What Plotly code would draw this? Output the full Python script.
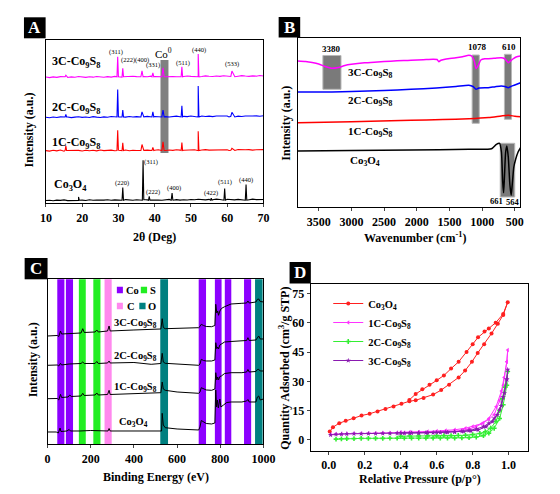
import plotly.graph_objects as go

FONT = "Liberation Serif"
W, H, OFF = 544, 478, 8   # page body margin is 8px; figure placed at (8, 8)

def fx(px):
    return (px - OFF) / W

def fy(py):
    return 1 - (py - OFF) / H

# ---------------- Panel A: XRD ----------------
xrd_grid = list(range(10, 71))
black_noise = [2.5,2.8,2.3,2.9,2.6,3.1,2.4,2.7,3.0,2.6, 2.9,2.5,3.2,2.7,3.0,2.6,2.9,3.3,2.8,3.1,
               2.7,3.0,3.4,2.9,2.8,3.2,3.0,3.5,3.1,2.9, 3.3,3.0,2.8,3.2,3.6,3.1,3.4,2.9,3.3,3.0,
               3.5,3.2,3.8,3.4,3.1,3.6,3.3,3.9,3.5,3.2, 3.7,3.4,3.1,3.6,3.3,3.8,3.5,3.9,3.4,3.7, 3.5]
red_noise = [52.3,51.8,52.6,52.0,52.9,51.7,52.4,52.8,52.1,52.5, 51.9,52.7,52.2,52.6,52.0,52.9,52.3,52.5,52.8,52.1,
             52.6,52.3,52.9,52.2,52.7,52.4,53.0,52.5,52.8,52.3, 52.7,53.1,52.6,52.4,52.9,52.5,53.2,52.8,52.6,53.0,
             52.7,53.1,52.5,52.9,53.3,52.8,53.0,52.6,53.1,52.9, 53.2,52.7,53.0,53.4,52.9,53.1,53.3,52.8,53.2,53.0, 53.3]
blue_noise = [85.6,85.1,85.9,85.3,86.0,85.4,85.8,85.2,85.7,86.1, 85.5,85.9,85.3,86.2,85.7,85.4,86.0,85.6,86.3,85.8,
              85.5,86.1,85.7,86.4,85.9,86.2,85.6,86.0,86.5,85.9, 86.3,86.0,86.6,86.2,85.9,86.4,86.7,86.1,86.5,86.2,
              86.8,86.3,86.6,86.9,86.4,86.7,86.2,86.8,87.0,86.5, 86.9,86.6,87.1,86.7,86.4,86.9,87.2,86.8,87.0,86.6, 87.1]
magenta_noise = [125.7,125.2,125.9,125.4,126.1,125.6,125.3,125.9,125.5,126.2, 125.8,125.4,126.0,125.6,126.3,125.9,125.5,126.1,125.7,126.4,
                 126.0,125.7,126.2,125.8,126.5,126.1,125.8,126.3,126.0,126.6, 126.2,125.9,126.4,126.1,126.7,126.3,126.0,126.5,126.2,126.8,
                 126.4,126.1,126.6,126.3,126.9,126.5,126.2,126.7,126.4,127.0, 126.6,126.3,126.8,126.5,127.1,126.7,126.4,126.9,126.6,127.2, 126.8]

black_base, red_base, blue_base, magenta_base = 2.8, 52.4, 85.9, 126.0

black_peak_pos = [19.0, 31.2, 36.8, 38.5, 44.8, 55.6, 59.3, 65.2]
black_peak_top = [6.0, 15.4, 42.7, 6.7, 10.0, 4.7, 14.4, 18.4]
black_peak_hw = [0.2, 0.2, 0.2, 0.2, 0.25, 0.2, 0.2, 0.2]

c_peak_pos = [15.5, 29.8, 31.2, 36.5, 39.5, 42.3, 47.5, 52.0, 61.3]
c_peak_hw = [0.2, 0.2, 0.2, 0.3, 0.25, 0.3, 0.2, 0.2, 0.8]
red_peak_top = [57.0, 72.7, 60.0, 58.4, 55.5, 61.0, 60.4, 71.7, 54.5]
blue_peak_top = [88.4, 113.4, 92.7, 91.0, 91.0, 92.7, 97.0, 116.7, 90.5]
magenta_peak_top = [127.5, 146.0, 134.4, 132.0, 130.0, 135.0, 136.0, 148.7, 131.7]

# ---------------- Panel B: FTIR ----------------
ftir_3c_x = [3820,3700,3600,3500,3400,3300,3200,3100,3000,2800,2600,2400,2200,2088,1900,1750,1690,1662,1630,1550,1400,1300,1203,1160,1120,1093,1060,1020,960,907,800,708,660,630,600,570,530,480,412]
ftir_3c_y = [146,145.5,144.5,143,140.5,138.7,139.5,141.5,142.7,144.2,145,145.8,146.5,146.7,147.3,147.8,147.5,145.3,146.8,148,149.2,150.3,151.7,151,146,138.3,141.5,147,148.3,148.3,148.8,149.3,148.5,146.5,144.3,145.8,148,150,151]
ftir_2c_x = [3820,3500,3297,3000,2500,2088,1700,1400,1203,1140,1093,1050,950,907,800,708,650,600,560,500,412]
ftir_2c_y = [115,115,115,115.5,116.5,117.7,119,120.5,121.7,120.5,117.7,119,119.3,119.3,120.3,121,120.5,119.3,120.5,122,124.3]
ftir_1c_x = [3820,3000,2088,1600,1203,900,708,600,500,412]
ftir_1c_y = [84.3,85.3,86.7,87.5,88.3,89.5,91,91.7,90.8,90.3]
ftir_co_x = [3820,3000,2088,1203,856,782,733,705,685,672,660,640,622,600,575,556,540,515,486,450,412]
ftir_co_y = [56,56.5,57,57.7,58.3,62.7,63.7,55,25,14.3,28,55,61,50,22,11.7,22,40,48,55,59.3]

# ---------------- Panel C: XPS ----------------
xps_co_x = [0,40,50,58,62,90,100,106,150,200,280,285,290,400,520,528,531,536,545,600,700,706,712,722,735,760,775,779,783,787,791,798,803,815,830,850,900,922,928,934,965,972,978,985,1000]
xps_co_y = [12,12,11,16,12.5,13,14.5,13,13,13.5,13,15.5,13,13,13,13,30.7,19,16.3,15,14,17,23.5,22,20.5,20,21,54,37,44,36,45,37,39,41.5,42,42,43,44.5,42,42,47,48,44,45]
xps_1c_x = [0,45,52,60,65,95,103,110,155,163,170,220,228,235,278,285,290,400,500,525,531,536,545,600,700,706,712,722,735,760,775,779,784,788,792,798,805,820,850,900,922,928,934,965,972,978,985,1000]
xps_1c_y = [45.3,45.5,44,49.7,46.5,47,49,47.5,48,50.7,48.5,49,51,49,49.5,53.7,49.5,50,50.7,51.3,62,55,53.7,52,50.7,52,56.3,55,54,53.7,55,71.3,64,67,64,67.5,68,70.5,71.3,71.3,72,74.5,72,72.5,74.5,74.7,73,73]
xps_2c_x = [0,45,52,60,65,100,155,163,170,220,228,235,278,285,290,400,480,525,531,536,545,600,700,706,712,722,735,760,775,779,784,788,792,798,805,820,850,900,922,928,934,965,972,978,985,1000]
xps_2c_y = [78.7,79,78,80.7,79,80,80.5,82,80.5,80.5,82.5,80.5,81,83,81,81.5,79.7,80.5,90.7,82,80.7,80,78.7,80,84.7,83.5,83,83,84,101.3,95.3,97,95,99,100,102,102.5,103,103.5,106.3,103.5,104,107,108,105,105]
xps_3c_x = [0,45,52,60,65,100,155,163,170,220,228,235,278,285,290,400,480,525,531,536,545,600,700,706,712,722,735,760,775,779,784,788,792,798,805,820,850,900,922,928,934,965,972,978,985,1000]
xps_3c_y = [108,108.5,107.5,113,110,110.5,111,115.3,111.5,112,114,112,113,118,113,114,114.7,115,125.3,116.5,115.3,115.5,116.3,117.5,119.7,118.5,117.5,117.3,118.5,139.7,131,133,128.7,133,135.5,137.3,140,140.7,141,143,141,142,144.7,145,142.5,142]
band_lo = [45, 85, 145, 212, 264, 522, 700, 775, 821, 910, 961]
band_hi = [78, 118, 177, 245, 297, 558, 734, 806, 851, 943, 996]
band_el = ["Co", "Co", "S", "S", "C", "O", "Co", "Co", "Co", "Co", "O"]
el_color = {"Co": "#8c00ff", "S": "#22ee22", "C": "#ff88ee", "O": "#008080"}

# ---------------- Panel D: N2 isotherms ----------------
co_ads_x = [0.005,0.023,0.058,0.094,0.138,0.182,0.227,0.271,0.315,0.36,0.404,0.448,0.483,0.527,0.58,0.625,0.669,0.722,0.758,0.796,0.828,0.864,0.905,0.94,0.97,0.995]
co_ads_y = [4.3,6.5,8.6,9.8,11.1,12.5,13.4,14.6,15.8,17.1,18.5,19.8,20.3,21.5,23.2,25.5,28.3,32.0,35.5,40.0,44.5,49.0,54.5,59.5,64.0,70.5]
co_des_x = [0.97,0.928,0.89,0.866,0.83,0.80,0.766,0.722,0.68,0.64,0.60,0.56,0.52,0.483,0.448]
co_des_y = [64.5,60.0,57.0,55.5,52.5,49.0,45.0,40.0,36.5,33.0,30.5,28.2,26.0,23.5,20.5]
s_ads_x = [0.01,0.04,0.07,0.1,0.14,0.18,0.22,0.26,0.3,0.34,0.38,0.42,0.46,0.5,0.54,0.58,0.62,0.66,0.7,0.74,0.78,0.82,0.86,0.89,0.92,0.95,0.97,0.99,0.995]
c1_ads_y = [2.8,3.0,3.1,3.2,3.3,3.3,3.4,3.4,3.5,3.5,3.6,3.6,3.7,3.8,3.8,3.9,4.0,4.2,4.5,5.0,5.6,6.8,8.8,10.5,13,20,28,40,46]
c1_des_x = [0.99,0.975,0.96,0.93,0.89,0.85,0.8,0.76,0.7,0.65,0.6,0.55,0.5,0.45,0.4]
c1_des_y = [40,32,25,17,11,8.3,6.9,6.0,5.2,4.8,4.5,4.3,4.1,4.0,3.9]
c3_ads_y = [2.6,2.9,3.0,3.1,3.2,3.2,3.3,3.3,3.4,3.4,3.5,3.5,3.6,3.6,3.7,3.7,3.8,3.9,4.1,4.4,4.9,5.6,6.8,8.5,11,15.5,22,31,36]
c3_des_x = [0.99,0.977,0.959,0.937,0.91,0.875,0.83,0.79,0.75,0.7,0.65,0.6,0.55,0.5,0.45,0.4]
c3_des_y = [31,24,17.4,12.8,9.4,6.8,5.1,4.6,4.3,4.1,3.9,3.8,3.7,3.6,3.5,3.5]
c2_ads_x = [0.04,0.07,0.1,0.14,0.18,0.22,0.26,0.3,0.34,0.38,0.42,0.46,0.5,0.54,0.58,0.62,0.66,0.7,0.74,0.78,0.82,0.86,0.89,0.92,0.95,0.97,0.99,0.995]
c2_ads_y = [0.4,0.6,0.7,0.7,0.8,0.8,0.8,0.8,0.9,0.9,0.9,0.9,0.9,0.9,1.0,1.0,1.0,1.0,1.1,1.2,1.5,2.2,3.5,6,11,18,28,35]
c2_des_x = [0.98,0.965,0.95,0.93,0.9,0.87,0.84,0.8,0.76,0.72,0.68,0.64,0.6,0.55,0.5,0.45,0.4]
c2_des_y = [27,21,15,9.5,6,4.2,3.3,2.7,2.4,2.3,2.2,2.2,2.1,2.1,2.0,2.0,1.9]

fig = go.Figure()

def xrd_series(noise, base, pos, top, hw):
    pts = list(zip(xrd_grid, noise))
    for p, t, w in zip(pos, top, hw):
        pts += [(p - w, base), (p, t), (p + w, base)]
    pts.sort()
    return [a for a, _ in pts], [b for _, b in pts]

for noise, base, tops, hws, pos, col in [
        (black_noise, black_base, black_peak_top, black_peak_hw, black_peak_pos, "black"),
        (red_noise, red_base, red_peak_top, c_peak_hw, c_peak_pos, "#ff0000"),
        (blue_noise, blue_base, blue_peak_top, c_peak_hw, c_peak_pos, "#0000ff"),
        (magenta_noise, magenta_base, magenta_peak_top, c_peak_hw, c_peak_pos, "#ff00ff")]:
    xs, ys = xrd_series(noise, base, pos, tops, hws)
    fig.add_trace(go.Scatter(x=xs, y=ys, mode="lines", line=dict(color=col, width=1.1),
                             showlegend=False, xaxis="x", yaxis="y"))

for xs, ys, col in [(ftir_3c_x, ftir_3c_y, "#ff00ff"), (ftir_2c_x, ftir_2c_y, "#0000ff"),
                    (ftir_1c_x, ftir_1c_y, "#ff0000"), (ftir_co_x, ftir_co_y, "black")]:
    fig.add_trace(go.Scatter(x=xs, y=ys, mode="lines", line=dict(color=col, width=1.5, shape="spline", smoothing=0.6),
                             showlegend=False, xaxis="x2", yaxis="y2"))

for xs, ys in [(xps_co_x, xps_co_y), (xps_1c_x, xps_1c_y), (xps_2c_x, xps_2c_y), (xps_3c_x, xps_3c_y)]:
    fig.add_trace(go.Scatter(x=xs, y=ys, mode="lines", line=dict(color="black", width=1),
                             showlegend=False, xaxis="x3", yaxis="y3"))

iso = [
    ("Co<sub>3</sub>O<sub>4</sub>", co_ads_x + co_des_x, co_ads_y + co_des_y, "#ff2020", "circle"),
    ("1C-Co<sub>9</sub>S<sub>8</sub>", s_ads_x + c1_des_x, c1_ads_y + c1_des_y, "#ff33ff", "triangle-left"),
    ("2C-Co<sub>9</sub>S<sub>8</sub>", c2_ads_x + c2_des_x, c2_ads_y + c2_des_y, "#33ee33", "cross"),
    ("3C-Co<sub>9</sub>S<sub>8</sub>", s_ads_x + c3_des_x, c3_ads_y + c3_des_y, "#8a1ab0", "star"),
]
for name, xs, ys, col, sym in iso:
    fig.add_trace(go.Scatter(x=xs, y=ys, mode="lines+markers", name=name,
                             line=dict(color=col, width=1), marker=dict(color=col, size=4, symbol=sym),
                             xaxis="x4", yaxis="y4"))

ax_common = dict(showline=True, linecolor="black", linewidth=1.2, mirror=True, showgrid=False, zeroline=False,
                 tickfont=dict(family=FONT, size=12, color="black", weight="bold"))
fig.update_layout(
    width=W, height=H, margin=dict(l=0, r=0, t=0, b=0),
    paper_bgcolor="white", plot_bgcolor="white",
    xaxis=dict(ax_common, domain=[fx(41), fx(266)], range=[10, 70], dtick=10, ticks="outside", ticklen=3, anchor="y"),
    yaxis=dict(ax_common, domain=[fy(203), fy(40)], range=[0, 162.7], showticklabels=False, ticks="", anchor="x"),
    xaxis2=dict(ax_common, domain=[fx(301.5), fx(531.7)], range=[3820, 415], tickvals=[3500,3000,2500,2000,1500,1000,500],
                ticks="outside", ticklen=3, anchor="y2"),
    yaxis2=dict(ax_common, domain=[fy(207), fy(38)], range=[0, 169], showticklabels=False, ticks="", anchor="x2"),
    xaxis3=dict(ax_common, domain=[fx(42.7), fx(266)], range=[0, 1000], dtick=200, ticks="outside", ticklen=3, anchor="y3"),
    yaxis3=dict(ax_common, domain=[fy(444), fy(279.3)], range=[0, 164.7], showticklabels=False, ticks="", anchor="x3"),
    xaxis4=dict(ax_common, domain=[fx(315), fx(540)], range=[-0.1, 1.11], tickvals=[0, 0.2, 0.4, 0.6, 0.8, 1.0],
                tickformat=".1f", ticks="outside", ticklen=3, anchor="y4"),
    yaxis4=dict(ax_common, domain=[fy(450.7), fy(284)], range=[-5.5, 79.8], tickvals=[0, 15, 30, 45, 60, 75],
                ticks="outside", ticklen=3, anchor="x4"),
    legend=dict(x=fx(333), y=fy(289), xanchor="left", yanchor="top", bgcolor="rgba(0,0,0,0)",
                font=dict(family=FONT, size=10.5, color="black", weight="bold"), tracegroupgap=0, itemwidth=30),
)

shapes = []
annos = []

def txt(x, y, t, ref, size=11, anchor="center", color="black", bold=True, angle=0):
    annos.append(dict(x=x, y=y, text=t, xref=ref[0], yref=ref[1], showarrow=False, xanchor=anchor, yanchor="middle",
                      textangle=angle, font=dict(family=FONT, size=size, color=color, weight="bold" if bold else "normal")))

# Panel A decorations
shapes.append(dict(type="rect", xref="x", yref="y", x0=41.6, x1=43.8, y0=50, y1=142.7, fillcolor="#808080",
                   line=dict(width=0), layer="below"))
A = ("x", "y")
txt(18.3, 141, "3C-Co<sub>9</sub>S<sub>8</sub>", A, 12)
txt(18.3, 94.4, "2C-Co<sub>9</sub>S<sub>8</sub>", A, 12)
txt(18.3, 59.4, "1C-Co<sub>9</sub>S<sub>8</sub>", A, 12)
txt(16.9, 17.7, "Co<sub>3</sub>O<sub>4</sub>", A, 12)
for x, y, t in [(29.3, 150.4, "(311)"), (34.5, 142.7, "(222)(400)"), (39.6, 137.7, "(331)"), (47.8, 139.4, "(511)"),
                (52.2, 152.7, "(440)"), (61.3, 138.7, "(533)"), (30.9, 20, "(220)"), (39.1, 41, "(311)"),
                (39.6, 10.7, "(222)"), (45.2, 15, "(400)"), (55.5, 10, "(422)"), (59.3, 21, "(511)"), (65.3, 22.7, "(440)")]:
    txt(x, y, t, A, 6.5, bold=False)
txt(42.4, 150, "Co<sup>0</sup>", A, 11, bold=False)

# Panel B decorations
for x0, x1, y0, y1 in [(3436, 3159, 117.7, 151.5), (1153, 1044, 83.7, 152), (659, 551, 87.7, 152.7), (723, 501, 10, 63.7)]:
    shapes.append(dict(type="rect", xref="x2", yref="y2", x0=x0, x1=x1, y0=y0, y1=y1, fillcolor="#7a7a7a",
                       line=dict(color="#b8b8b8", width=1), layer="below"))
B = ("x2", "y2")
txt(3300, 158, "3380", B, 9)
txt(1064, 160, "1078", B, 9)
txt(585, 160, "610", B, 9)
txt(2704, 134.3, "3C-Co<sub>9</sub>S<sub>8</sub>", B, 11)
txt(2704, 106, "2C-Co<sub>9</sub>S<sub>8</sub>", B, 11)
txt(2704, 75, "1C-Co<sub>9</sub>S<sub>8</sub>", B, 11)
txt(2793, 46, "Co<sub>3</sub>O<sub>4</sub>", B, 11)
txt(775, 6.5, "661", B, 8.5)
txt(528, 5.5, "564", B, 8.5)

# Panel C decorations
for lo, hi, el in zip(band_lo, band_hi, band_el):
    shapes.append(dict(type="rect", xref="x3", yref="y3 domain", x0=lo, x1=hi, y0=0, y1=1,
                       fillcolor=el_color[el], line=dict(width=0), layer="below"))
C = ("x3", "y3")
for x0, x1, y0, y1, el, tx in [(321, 349, 150.7, 157.3, "Co", 352), (432, 461, 150.7, 157.3, "S", 464),
                               (321, 349, 134.7, 141.3, "C", 358), (425, 454, 134.7, 141.3, "O", 458)]:
    shapes.append(dict(type="rect", xref="x3", yref="y3", x0=x0, x1=x1, y0=y0, y1=y1,
                       fillcolor=el_color[el], line=dict(width=0)))
    txt(tx, (y0 + y1) / 2, el, C, 10.5, anchor="left")
txt(406, 121, "3C-Co<sub>9</sub>S<sub>8</sub>", C, 10.5)
txt(406, 88, "2C-Co<sub>9</sub>S<sub>8</sub>", C, 10.5)
txt(406, 57, "1C-Co<sub>9</sub>S<sub>8</sub>", C, 10.5)
txt(398, 21.3, "Co<sub>3</sub>O<sub>4</sub>", C, 10.5)

# Panel letters
for (x0, x1, y0, y1, L) in [(18.3, 40.7, 17.3, 38.3, "A"), (281.7, 304, 17, 37.5, "B"),
                            (19, 42.7, 258, 279.3, "C"), (293, 315, 262, 283.5, "D")]:
    shapes.append(dict(type="rect", xref="paper", yref="paper", x0=fx(x0), x1=fx(x1), y0=fy(y1), y1=fy(y0),
                       fillcolor="black", line=dict(width=0)))
    txt((fx(x0) + fx(x1)) / 2, (fy(y0) + fy(y1)) / 2, L, ("paper", "paper"), 17, color="white")

# Axis titles
P = ("paper", "paper")
txt(fx(153), fy(237), "2θ (Deg)", P, 12)
txt(fx(23), fy(130), "Intensity (a.u.)", P, 12, angle=-90)
txt(fx(423), fy(237), "Wavenumber (cm<sup>-1</sup>)", P, 12)
txt(fx(289), fy(123), "Intensity (a.u.)", P, 12, angle=-90)
txt(fx(155), fy(477), "Binding Energy (eV)", P, 12)
txt(fx(28), fy(360), "Intensity (a.u.)", P, 12, angle=-90)
txt(fx(428), fy(479), "Relative Pressure (p/p°)", P, 12)
txt(fx(287), fy(368), "Quantity Adsorbed (cm<sup>3</sup>/g STP)", P, 12, angle=-90)

fig.update_layout(shapes=shapes, annotations=annos)
fig.write_html("out.html")
